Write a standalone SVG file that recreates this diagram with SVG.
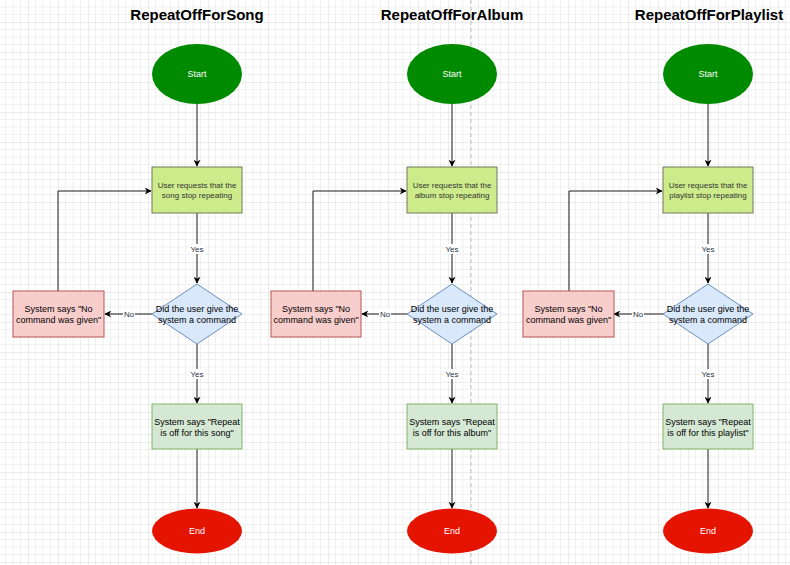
<svg xmlns="http://www.w3.org/2000/svg" width="790" height="565" viewBox="0 0 790 565">
<defs>
<pattern id="grid" x="-2" y="-8" width="30" height="30" patternUnits="userSpaceOnUse">
<path d="M7.5 0V30M15 0V30M22.5 0V30M0 7.5H30M0 15H30M0 22.5H30" stroke="#f0f0f0" stroke-width="1" fill="none"/>
<path d="M0 0V30M0 0H30" stroke="#dadada" stroke-width="1" fill="none"/>
</pattern>
<marker id="arr" viewBox="0 0 10 10" refX="9" refY="5" markerWidth="7" markerHeight="7" markerUnits="userSpaceOnUse" orient="auto">
<path d="M0 0L10 5L0 10L3 5Z" fill="#000"/>
</marker>
</defs>
<style>
.t{font-family:"Liberation Sans",Arial,sans-serif;text-anchor:middle}
.title{font-size:15px;font-weight:bold;fill:#000}
.n9{font-size:9px;fill:#000}
.n8{font-size:8px;fill:#333}
.w{font-size:9px;fill:#fff}
.lbl{font-size:8px;fill:#2a3344}
.start{fill:#008a00;stroke:none}
.end{fill:#e51400;stroke:none}
.req{fill:#cdeb8b;stroke:#6f7a5c;stroke-width:1}
.dec{fill:#dae8fc;stroke:#6c8ebf;stroke-width:1}
.no{fill:#f8cecc;stroke:#b85450;stroke-width:1}
.ok{fill:#d5e8d4;stroke:#82b366;stroke-width:1}
.c{stroke:#1a1a1a;stroke-width:1;fill:none;marker-end:url(#arr)}
.lb{fill:#fff}
</style>
<rect width="790" height="565" fill="#fff"/>
<rect width="790" height="565" fill="url(#grid)"/>
<line x1="471" y1="0" x2="471" y2="565" stroke="#bdbdbd" stroke-width="1" stroke-dasharray="4 3"/>

<g id="titles">
<text class="t title" x="197" y="20">RepeatOffForSong</text>
<text class="t title" x="452" y="20">RepeatOffForAlbum</text>
<text class="t title" x="709" y="20">RepeatOffForPlaylist</text>
</g>

<g id="connectors">
<!-- column 1 -->
<path class="c" d="M197 104V166"/>
<path class="c" d="M197 213V283"/>
<path class="c" d="M197 344V403"/>
<path class="c" d="M197 449V508"/>
<path class="c" d="M152 314H105"/>
<path class="c" d="M58 291V191H151"/>
<!-- column 2 -->
<path class="c" d="M452 104V166"/>
<path class="c" d="M452 213V283"/>
<path class="c" d="M452 344V403"/>
<path class="c" d="M452 449V508"/>
<path class="c" d="M407 314H362"/>
<path class="c" d="M313 291V191H406"/>
<!-- column 3 -->
<path class="c" d="M708 104V166"/>
<path class="c" d="M708 213V283"/>
<path class="c" d="M708 344V403"/>
<path class="c" d="M708 449V508"/>
<path class="c" d="M663 314H614"/>
<path class="c" d="M569 291V191H662"/>
<!-- labels -->
<rect class="lb" x="189" y="244" width="16" height="10"/><text class="t lbl" x="197" y="252">Yes</text>
<rect class="lb" x="189" y="369" width="16" height="10"/><text class="t lbl" x="197" y="377">Yes</text>
<rect class="lb" x="123" y="309" width="12" height="10"/><text class="t lbl" x="129" y="317">No</text>
<rect class="lb" x="444" y="244" width="16" height="10"/><text class="t lbl" x="452" y="252">Yes</text>
<rect class="lb" x="444" y="369" width="16" height="10"/><text class="t lbl" x="452" y="377">Yes</text>
<rect class="lb" x="379" y="309" width="12" height="10"/><text class="t lbl" x="385" y="317">No</text>
<rect class="lb" x="700" y="244" width="16" height="10"/><text class="t lbl" x="708" y="252">Yes</text>
<rect class="lb" x="700" y="369" width="16" height="10"/><text class="t lbl" x="708" y="377">Yes</text>
<rect class="lb" x="632" y="309" width="12" height="10"/><text class="t lbl" x="638" y="317">No</text>
</g>

<!-- column 1 nodes -->
<g id="song-start"><ellipse class="start" cx="197" cy="74" rx="45" ry="30"/><text class="t w" x="197" y="77">Start</text></g>
<g id="song-request"><rect class="req" x="152" y="167" width="90" height="46"/><text class="t n8" x="197" y="188">User requests that the</text><text class="t n8" x="197" y="198">song stop repeating</text></g>
<g id="song-decision"><path class="dec" d="M197 284L242 314L197 344L152 314Z"/><text class="t n9" x="197" y="312">Did the user give the</text><text class="t n9" x="197" y="323">system a command</text></g>
<g id="song-nocmd"><rect class="no" x="13" y="291" width="91" height="46"/><text class="t n9" x="58.5" y="312">System says "No</text><text class="t n9" x="58.5" y="323">command was given"</text></g>
<g id="song-off"><rect class="ok" x="152" y="404" width="90" height="45"/><text class="t n9" x="197" y="425">System says "Repeat</text><text class="t n9" x="197" y="436">is off for this song"</text></g>
<g id="song-end"><ellipse class="end" cx="197" cy="531" rx="45" ry="22.5"/><text class="t w" x="197" y="534">End</text></g>

<!-- column 2 nodes -->
<g id="album-start"><ellipse class="start" cx="452" cy="74" rx="45" ry="30"/><text class="t w" x="452" y="77">Start</text></g>
<g id="album-request"><rect class="req" x="407" y="167" width="90" height="46"/><text class="t n8" x="452" y="188">User requests that the</text><text class="t n8" x="452" y="198">album stop repeating</text></g>
<g id="album-decision"><path class="dec" d="M452 284L497 314L452 344L407 314Z"/><text class="t n9" x="452" y="312">Did the user give the</text><text class="t n9" x="452" y="323">system a command</text></g>
<g id="album-nocmd"><rect class="no" x="271" y="291" width="90" height="46"/><text class="t n9" x="316" y="312">System says "No</text><text class="t n9" x="316" y="323">command was given"</text></g>
<g id="album-off"><rect class="ok" x="407" y="404" width="90" height="45"/><text class="t n9" x="452" y="425">System says "Repeat</text><text class="t n9" x="452" y="436">is off for this album"</text></g>
<g id="album-end"><ellipse class="end" cx="452" cy="531" rx="45" ry="22.5"/><text class="t w" x="452" y="534">End</text></g>

<!-- column 3 nodes -->
<g id="playlist-start"><ellipse class="start" cx="708" cy="74" rx="45" ry="30"/><text class="t w" x="708" y="77">Start</text></g>
<g id="playlist-request"><rect class="req" x="663" y="167" width="90" height="46"/><text class="t n8" x="708" y="188">User requests that the</text><text class="t n8" x="708" y="198">playlist stop repeating</text></g>
<g id="playlist-decision"><path class="dec" d="M708 284L753 314L708 344L663 314Z"/><text class="t n9" x="708" y="312">Did the user give the</text><text class="t n9" x="708" y="323">system a command</text></g>
<g id="playlist-nocmd"><rect class="no" x="523" y="291" width="91" height="46"/><text class="t n9" x="568.5" y="312">System says "No</text><text class="t n9" x="568.5" y="323">command was given"</text></g>
<g id="playlist-off"><rect class="ok" x="663" y="404" width="90" height="45"/><text class="t n9" x="708" y="425">System says "Repeat</text><text class="t n9" x="708" y="436">is off for this playlist"</text></g>
<g id="playlist-end"><ellipse class="end" cx="708" cy="531" rx="45" ry="22.5"/><text class="t w" x="708" y="534">End</text></g>
</svg>
